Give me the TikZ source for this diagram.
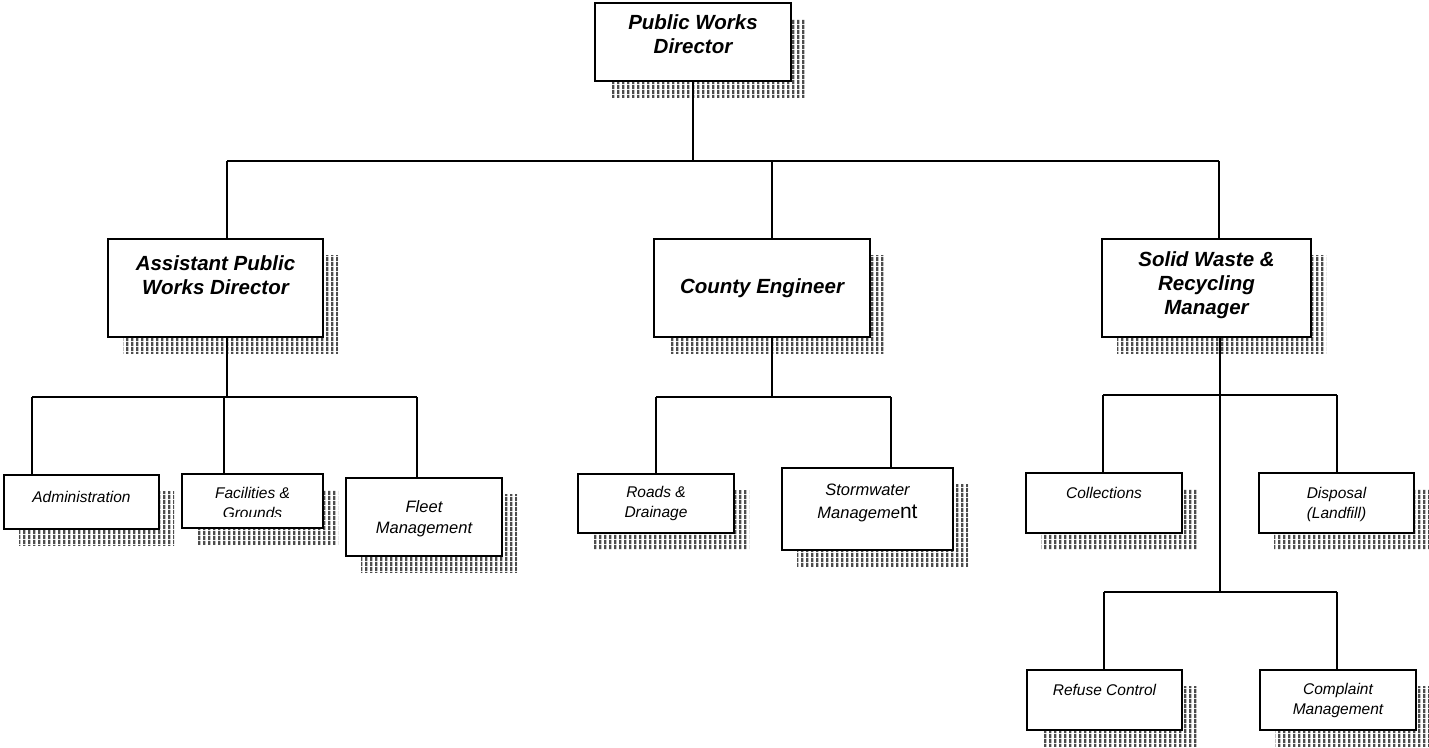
\documentclass[tikz,border=0pt]{standalone}
\usepackage{fontspec}
\setmainfont{Liberation Sans}
\usetikzlibrary{shadows,patterns}
\pgfdeclarepatternformonly{ditherstripes}{\pgfpointorigin}{\pgfpoint{4.5pt}{4.5pt}}{\pgfpoint{4.5pt}{4.5pt}}{%
  \pgfpathrectangle{\pgfpointorigin}{\pgfpoint{2.6pt}{4.5pt}}\pgfusepath{fill}}
\begin{document}
\begin{tikzpicture}[x=1pt,y=-1pt,
  box/.style={draw=black, line width=1.5pt, fill=white, inner sep=0pt,
    general shadow={shadow xshift=15pt, shadow yshift=-16pt, pattern=ditherstripes, pattern color=black!70}},
  bigtxt/.style={font=\fontsize{20.5}{24}\selectfont\bfseries\itshape, align=center},
  smalltxt/.style={font=\fontsize{15.5}{20}\selectfont\itshape, align=center},
  midtxt/.style={font=\fontsize{16.5}{21}\selectfont\itshape, align=center},
  conn/.style={draw=black, line width=1.4pt}]
\useasboundingbox[fill=white] (0,0) rectangle (1429,747);

% level 1
\node[box, minimum width=196pt, minimum height=78pt,
  label={[name=pwdt, bigtxt, yshift=8pt]center:{Public Works\\Director}}] (pwd) at (693,42) {};

% level 2
\node[box, minimum width=215pt, minimum height=98pt,
  label={[name=apwdt, bigtxt, yshift=13pt]center:{Assistant Public\\Works Director}}] (apwd) at (215.5,288) {};
\node[box, minimum width=216pt, minimum height=98pt,
  label={[name=cet, bigtxt]center:{County Engineer}}] (ce) at (762,288) {};
\node[box, minimum width=209pt, minimum height=98pt,
  label={[name=swt, bigtxt, yshift=3pt]center:{Solid Waste \&\\Recycling\\Manager}}] (sw) at (1206.5,288) {};

% level 3 - assistant
\node[box, minimum width=155pt, minimum height=54pt,
  label={[name=admt, smalltxt, yshift=5pt]center:{Administration}}] (adm) at (81.5,502) {};
\node[box, minimum width=141pt, minimum height=54pt] (fac) at (252.5,501) {};
\begin{scope}
  \clip (fac.north west) rectangle ([yshift=12pt]fac.south east);
  \node[smalltxt] (fact) at ([yshift=-2pt]fac.center) {Facilities \&\\Grounds};
\end{scope}
\node[box, minimum width=156pt, minimum height=78pt,
  label={[name=fleett, midtxt, yshift=-1.5pt]center:{Fleet\\Management}}] (fleet) at (424,517) {};

% level 3 - county engineer
\node[box, minimum width=156pt, minimum height=59pt,
  label={[name=roadt, smalltxt]center:{Roads \&\\Drainage}}] (road) at (656,503.5) {};
\node[box, minimum width=171pt, minimum height=82pt,
  label={[name=stormt, midtxt, yshift=6.5pt]center:{Stormwater\\[2pt]Manageme{\fontsize{21}{21}\selectfont\upshape nt}}}] (storm) at (867.5,509) {};

% level 3 - solid waste
\node[box, minimum width=156pt, minimum height=60pt,
  label={[name=collt, smalltxt, yshift=10pt]center:{Collections}}] (coll) at (1104,503) {};
\node[box, minimum width=155pt, minimum height=60pt,
  label={[name=dispt, smalltxt, yshift=-1pt]center:{Disposal\\(Landfill)}}] (disp) at (1336.5,503) {};
\node[box, minimum width=155pt, minimum height=60pt,
  label={[name=reft, smalltxt, yshift=10pt]center:{Refuse Control}}] (ref) at (1104.5,700) {};
\node[box, minimum width=156pt, minimum height=60pt,
  label={[name=compt, smalltxt]center:{Complaint\\Management}}] (comp) at (1338,700) {};

% connectors level 1 -> 2
\coordinate (b1L) at (227,161);
\coordinate (b1C) at (772,161);
\coordinate (b1R) at (1219,161);
\draw[conn] (pwd.south) -- (pwd.south |- b1L);
\draw[conn] (b1L) -- (b1R);
\draw[conn] (b1L) -- (b1L |- apwd.north);
\draw[conn] (b1C) -- (b1C |- ce.north);
\draw[conn] (b1R) -- (b1R |- sw.north);

% assistant -> children
\coordinate (b2C) at (227,397);
\coordinate (b2L) at (32,397);
\coordinate (b2M) at (224,397);
\coordinate (b2R) at (417,397);
\draw[conn] (b2C |- apwd.south) -- (b2C);
\draw[conn] (b2L) -- (b2R);
\draw[conn] (b2L) -- (b2L |- adm.north);
\draw[conn] (b2M) -- (b2M |- fac.north);
\draw[conn] (b2R) -- (b2R |- fleet.north);

% county engineer -> children
\coordinate (b3C) at (772,397);
\coordinate (b3L) at (656,397);
\coordinate (b3R) at (891,397);
\draw[conn] (b3C |- ce.south) -- (b3C);
\draw[conn] (b3L) -- (b3R);
\draw[conn] (b3L) -- (b3L |- road.north);
\draw[conn] (b3R) -- (b3R |- storm.north);

% solid waste -> children
\coordinate (b4C) at (1220,395);
\coordinate (b4L) at (1103,395);
\coordinate (b4R) at (1337,395);
\coordinate (b5C) at (1220,592);
\coordinate (b5L) at (1104,592);
\coordinate (b5R) at (1337,592);
\draw[conn] (b4C |- sw.south) -- (b5C);
\draw[conn] (b4L) -- (b4R);
\draw[conn] (b4L) -- (b4L |- coll.north);
\draw[conn] (b4R) -- (b4R |- disp.north);
\draw[conn] (b5L) -- (b5R);
\draw[conn] (b5L) -- (b5L |- ref.north);
\draw[conn] (b5R) -- (b5R |- comp.north);
\end{tikzpicture}
\end{document}
